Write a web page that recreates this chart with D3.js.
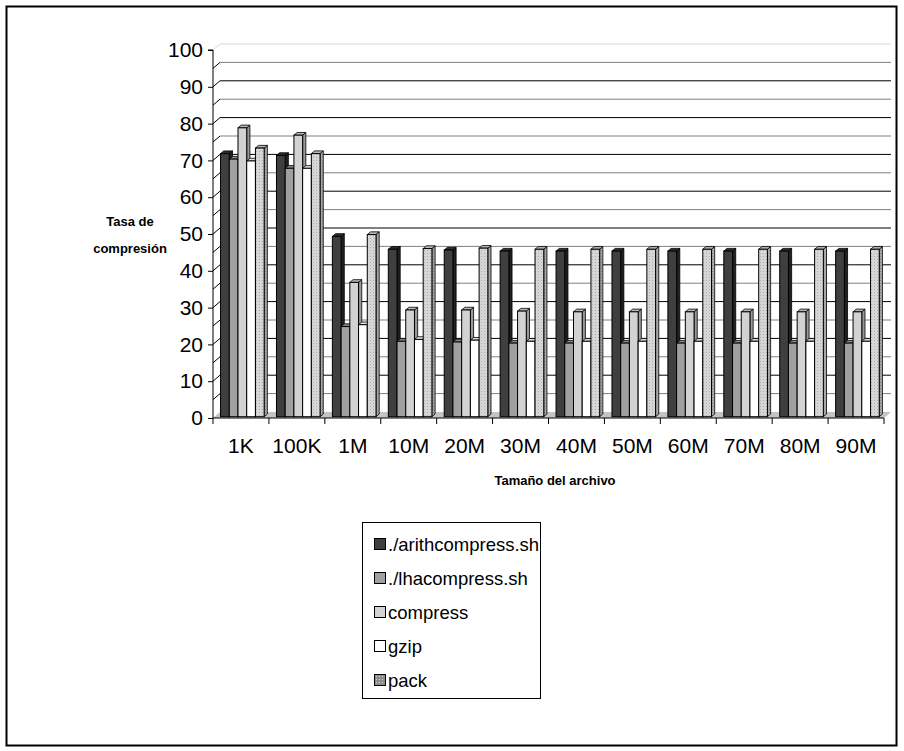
<!DOCTYPE html>
<html>
<head>
<meta charset="utf-8">
<script src="https://cdn.jsdelivr.net/npm/d3@7"></script>
<style>
  html, body { margin: 0; padding: 0; background: #ffffff; }
  svg { display: block; font-family: "Liberation Sans", Arial, sans-serif; }
</style>
</head>
<body>
<svg id="chart" width="904" height="751"></svg>
<script>
// File sizes on the category axis
const categories = ["1K", "100K", "1M", "10M", "20M", "30M", "40M", "50M", "60M", "70M", "80M", "90M"];

// Compression rate (%) for each tool, one value per file size
const arithcompress = [71.5, 71.0, 49.0, 45.5, 45.3, 45.0, 45.0, 45.0, 45.0, 45.0, 45.0, 45.0];
const lhacompress   = [70.0, 67.5, 24.5, 20.5, 20.3, 20.0, 20.0, 20.0, 20.0, 20.0, 20.0, 20.0];
const compress      = [78.5, 76.5, 36.5, 29.0, 29.0, 28.7, 28.5, 28.5, 28.5, 28.5, 28.5, 28.5];
const gzip          = [69.5, 67.5, 25.0, 21.0, 20.8, 20.5, 20.5, 20.5, 20.5, 20.5, 20.5, 20.5];
const pack          = [73.0, 71.5, 49.5, 45.7, 45.8, 45.5, 45.5, 45.5, 45.5, 45.5, 45.5, 45.5];

const seriesNames = ["./arithcompress.sh", "./lhacompress.sh", "compress", "gzip", "pack"];
const seriesValues = [arithcompress, lhacompress, compress, gzip, pack];

const yTicks = [0, 10, 20, 30, 40, 50, 60, 70, 80, 90, 100];

const svg = d3.select("#chart");

// fill patterns for the "pack" series
const defs = svg.append("defs");
function dotPattern(id, base, dot) {
  const p = defs.append("pattern").attr("id", id)
    .attr("patternUnits", "userSpaceOnUse").attr("width", 3).attr("height", 3);
  p.append("rect").attr("width", 3).attr("height", 3).attr("fill", base);
  p.append("rect").attr("x", 1).attr("y", 1).attr("width", 1).attr("height", 1).attr("fill", dot);
}
dotPattern("packFill", "#d6d6d6", "#b0b0b0");
dotPattern("packSide", "#a8a8a8", "#808080");
dotPattern("packKey", "#8c8c8c", "#d8d8d8");

const fills = ["#3f3f3f", "#a0a0a0", "#d2d2d2", "#ffffff", "url(#packFill)"];
const sideFills = ["#202020", "#6e6e6e", "#9a9a9a", "#bcbcbc", "url(#packSide)"];
const topFills = ["#2e2e2e", "#888888", "#b8b8b8", "#e0e0e0", "#b8b8b8"];
const keyFills = ["#3f3f3f", "#a0a0a0", "#d2d2d2", "#ffffff", "url(#packKey)"];

// outer frame
svg.append("rect").attr("x", 6.5).attr("y", 6.5).attr("width", 890).attr("height", 739)
  .attr("fill", "none").attr("stroke", "#000").attr("stroke-width", 2);

// scales
const y = d3.scaleLinear().domain([0, 100]).range([418, 50]);
const x = d3.scaleBand().domain(categories).range([213, 884]);
const inner = d3.scaleBand().domain(d3.range(seriesNames.length))
  .range([0, x.bandwidth() * 0.78]);
const barOffset = x.bandwidth() * 0.135;

// depth of the back wall and of each bar
const wall = { dx: 7, dy: -6 };
const bar = { y0: -1.3, dx: 3.2, dy: -2.7 };

const x0 = x.range()[0], x1 = x.range()[1];

// floor
svg.append("polygon")
  .attr("points", [[x0, y(0)], [x1, y(0)], [x1 + wall.dx, y(0) + wall.dy], [x0 + wall.dx, y(0) + wall.dy]].join(" "))
  .attr("fill", "#c4c4c4").attr("stroke", "none");

// back wall gridlines (major every 10, minor every 5)
const gridVals = d3.range(5, 101, 5);
svg.append("g").selectAll("line").data(gridVals).join("line")
  .attr("x1", x0 + wall.dx).attr("x2", x1 + wall.dx)
  .attr("y1", d => y(d) + wall.dy).attr("y2", d => y(d) + wall.dy)
  .attr("stroke", d => d === 100 ? "#d8d8d8" : (d % 10 === 0 ? "#000" : "#808080"))
  .attr("stroke-width", 1);

// side wall connectors
svg.append("g").selectAll("line").data(gridVals).join("line")
  .attr("x1", x0).attr("x2", x0 + wall.dx)
  .attr("y1", d => y(d)).attr("y2", d => y(d) + wall.dy)
  .attr("stroke", d => d === 100 ? "#d8d8d8" : "#000").attr("stroke-width", 1);

// bars, drawn left to right so each covers the previous side face
const barsG = svg.append("g");
categories.forEach((cat, ci) => {
  seriesValues.forEach((vals, si) => {
    const v = vals[ci];
    const bx = x(cat) + barOffset + inner(si);
    const w = inner.bandwidth();
    const yt = y(v) + bar.y0;
    const yb = y(0) + bar.y0;
    const g = barsG.append("g");
    g.append("polygon")
      .attr("points", [[bx + w, yt], [bx + w + bar.dx, yt + bar.dy], [bx + w + bar.dx, yb + bar.dy], [bx + w, yb]].join(" "))
      .attr("fill", sideFills[si]).attr("stroke", "#000").attr("stroke-width", 0.8).attr("stroke-linejoin", "round");
    g.append("polygon")
      .attr("points", [[bx, yt], [bx + bar.dx, yt + bar.dy], [bx + w + bar.dx, yt + bar.dy], [bx + w, yt]].join(" "))
      .attr("fill", topFills[si]).attr("stroke", "#000").attr("stroke-width", 0.8).attr("stroke-linejoin", "round");
    g.append("rect")
      .attr("x", bx).attr("y", yt).attr("width", w).attr("height", yb - yt)
      .attr("fill", fills[si]).attr("stroke", "#000").attr("stroke-width", 1);
  });
});

// value axis
const yAxis = svg.append("g").attr("transform", `translate(${x0},0)`)
  .call(d3.axisLeft(y).tickValues(yTicks).tickSize(5).tickPadding(5).tickFormat(d3.format("d")));
yAxis.select(".domain").attr("stroke", "#000").attr("d", `M-5,${y(100)}H0V${y(0)}`);
yAxis.selectAll(".tick line").attr("stroke", "#000");
yAxis.selectAll(".tick text").attr("font-size", 21).attr("fill", "#000")
  .attr("font-family", "'Liberation Sans', Arial, sans-serif");

// category axis
const xAxis = svg.append("g").attr("transform", `translate(0,${y(0)})`)
  .call(d3.axisBottom(x).tickSize(0).tickPadding(20));
xAxis.select(".domain").attr("stroke", "#000").attr("d", `M${x0},0H${x1}`);
xAxis.selectAll(".tick text").attr("font-size", 21).attr("fill", "#000")
  .attr("font-family", "'Liberation Sans', Arial, sans-serif");
// category separators
svg.append("g").selectAll("line").data(d3.range(categories.length + 1)).join("line")
  .attr("x1", i => x0 + i * x.step()).attr("x2", i => x0 + i * x.step())
  .attr("y1", y(0)).attr("y2", y(0) + 6).attr("stroke", "#000");

// axis titles
const yTitle = svg.append("text").attr("text-anchor", "middle")
  .attr("font-weight", "bold").attr("font-size", 13).attr("fill", "#000");
yTitle.append("tspan").attr("x", 130).attr("y", 226).text("Tasa de");
yTitle.append("tspan").attr("x", 130).attr("y", 253).text("compresión");

svg.append("text").attr("x", 555).attr("y", 485).attr("text-anchor", "middle")
  .attr("font-weight", "bold").attr("font-size", 13).attr("fill", "#000")
  .text("Tamaño del archivo");

// legend
const legend = svg.append("g");
legend.append("rect").attr("x", 362.5).attr("y", 522.5).attr("width", 178).attr("height", 176)
  .attr("fill", "#fff").attr("stroke", "#000").attr("stroke-width", 1);
seriesNames.forEach((name, i) => {
  const ly = 545 + i * 34;
  legend.append("rect").attr("x", 374.5).attr("y", ly - 6.5).attr("width", 11).attr("height", 11)
    .attr("fill", keyFills[i]).attr("stroke", "#000").attr("stroke-width", 1);
  legend.append("text").attr("x", 388).attr("y", ly).attr("dy", "0.35em")
    .attr("font-size", 18.5).attr("fill", "#000").text(name);
});
</script>
</body>
</html>
